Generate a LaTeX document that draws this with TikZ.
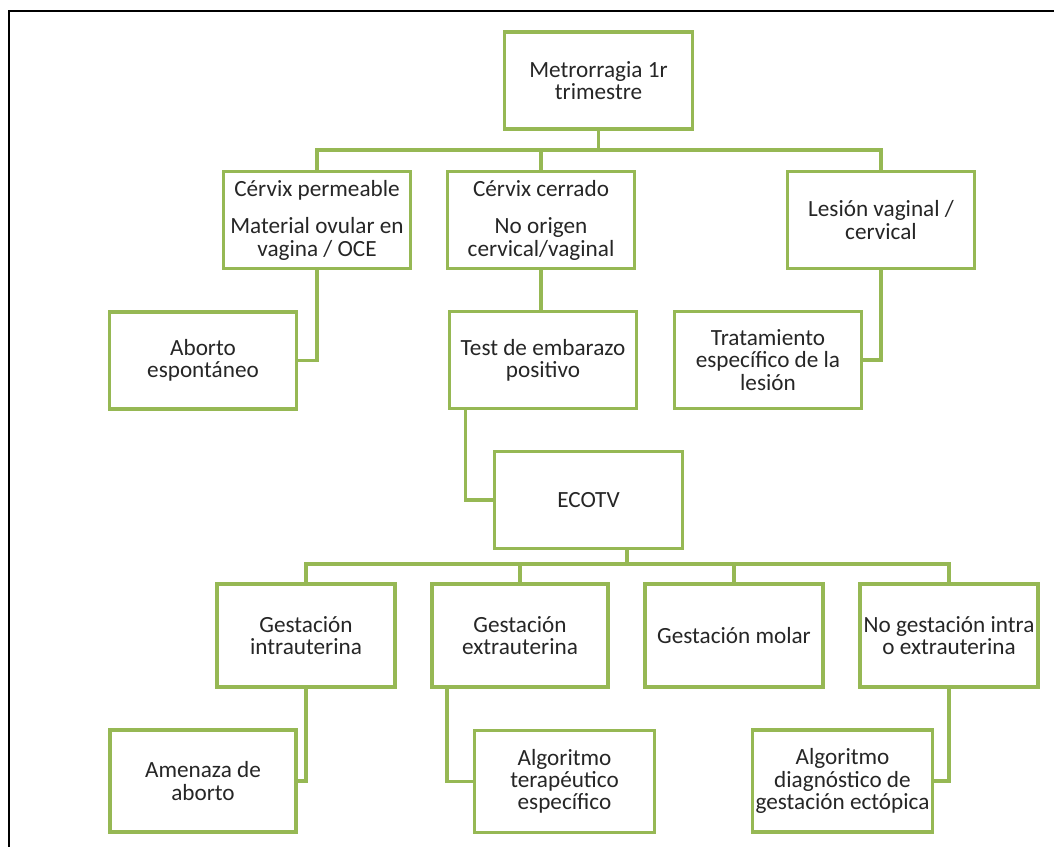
\documentclass[tikz,border=0pt]{standalone}
\usepackage{fontspec}
\setmainfont{Carlito}
\usetikzlibrary{positioning, calc}
\definecolor{olivegreen}{RGB}{150,184,84}
\definecolor{inkgray}{RGB}{38,38,38}

\begin{document}
\begin{tikzpicture}[
    x=0.025cm, y=-0.025cm,
    font=\fontsize{16.5}{15.8}\selectfont,
    base/.style={draw=olivegreen, fill=white, line width=2.3pt, align=center, inner sep=2pt, text=inkgray},
    upper/.style={base, minimum width=4.68cm, minimum height=2.42cm},
    lower/.style={base, minimum width=4.45cm, minimum height=2.57cm},
    leaf/.style={base, minimum width=4.5cm, minimum height=2.55cm},
    link/.style={olivegreen, line width=2.4pt}
  ]
    \clip (0,0) rectangle (1054,847);
    % outer frame
    \draw[line width=1.4pt, black] (9,11) rectangle (1080,880);

    \node[upper] (top) at (598.5,80.5) {Metrorragia 1r\\trimestre};
    \node[upper] (perm) at (317,220) {Cérvix permeable\\[11pt]Material ovular en\\vagina / OCE};
    \node[upper] (cerr) at (541,220) {Cérvix cerrado\\[11pt]No origen\\cervical/vaginal};
    \node[upper] (lesion) at (881,220) {Lesión vaginal /\\cervical};
    \node[upper] (aborto) at (203,360.5) {Aborto\\espontáneo};
    \node[upper] (test) at (543,360) {Test de embarazo\\positivo};
    \node[upper] (trat) at (768,360) {Tratamiento\\específico de la\\lesión};
    \node[upper] (eco) at (588.5,500) {ECOTV};

    \node[lower] (intra) at (306,635.5) {Gestación\\intrauterina};
    \node[lower, minimum width=4.4cm] (extra) at (520,635.5) {Gestación\\extrauterina};
    \node[lower] (molar) at (734,635.5) {Gestación molar};
    \node[lower] (nogest) at (949,635.5) {No gestación intra\\o extrauterina};

    \node[leaf, minimum width=4.65cm] (amen) at (203,781) {Amenaza de\\aborto};
    \node[leaf] (algt) at (564.5,781.5) {Algoritmo\\terapéutico\\específico};
    \node[leaf] (algd) at (842.5,781) {Algoritmo\\diagnóstico de\\gestación ectópica};

    % first split
    \coordinate (bus1) at (598.5,150);
    \draw[link] (top.south) -- (bus1);
    \draw[link] (perm.north) |- (bus1) -| (lesion.north);
    \draw[link] (cerr.north) -- (cerr.north |- bus1);
    \draw[link] (perm.south) |- (aborto.east);
    \draw[link] (cerr.south) -- (cerr.south |- test.north);
    \draw[link] (lesion.south) |- (trat.east);
    \draw[link] ([xshift=0.45cm]test.south west) |- (eco.west);

    % second split
    \coordinate (bus2) at (627,564);
    \draw[link] (eco.south -| bus2) -- (bus2);
    \draw[link] (intra.north) |- (bus2) -| (nogest.north);
    \draw[link] (extra.north) -- (extra.north |- bus2);
    \draw[link] (molar.north) -- (molar.north |- bus2);
    \draw[link] (intra.south) |- (amen.east);
    \draw[link] ([xshift=0.42cm]extra.south west) |- (algt.west);
    \draw[link] (nogest.south) |- (algd.east);
  \end{tikzpicture}
\end{document}
